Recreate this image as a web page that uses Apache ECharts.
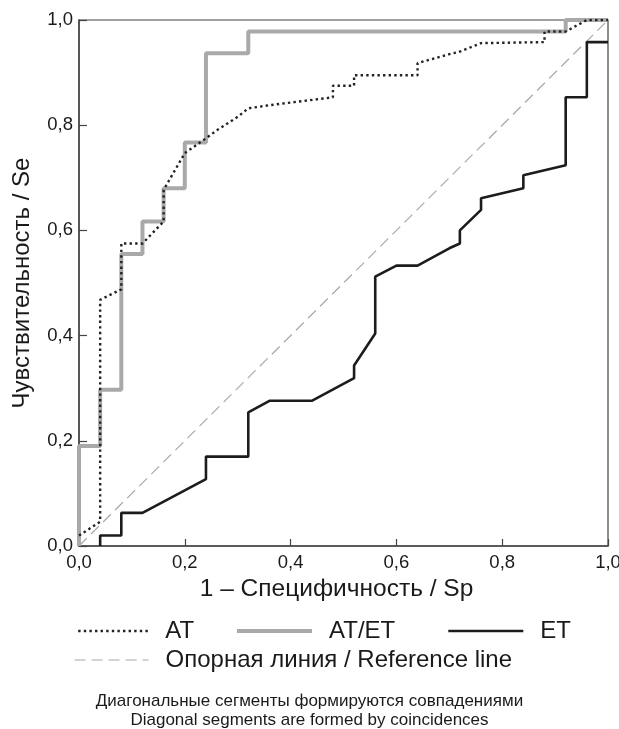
<!DOCTYPE html>
<html>
<head>
<meta charset="utf-8">
<script src="https://cdn.jsdelivr.net/npm/echarts@6/dist/echarts.min.js"></script>
<style>
  html, body { margin: 0; padding: 0; background: #fff; }
  #roc-chart { width: 619px; height: 729px; }
</style>
</head>
<body>
<div id="roc-chart"></div>
<script>
// [1 - Sp, Se] pairs
var atPoints = [
    [0, 0.02], [0.04, 0.046], [0.04, 0.468], [0.08, 0.488], [0.08, 0.575],
    [0.12, 0.575], [0.16, 0.617], [0.16, 0.677], [0.2, 0.747], [0.24, 0.775],
    [0.26, 0.79], [0.3, 0.816], [0.32, 0.832], [0.36, 0.838], [0.48, 0.853],
    [0.48, 0.875], [0.52, 0.875], [0.52, 0.895], [0.64, 0.895], [0.64, 0.918],
    [0.7, 0.935], [0.72, 0.94], [0.76, 0.956], [0.88, 0.958], [0.88, 0.978],
    [0.92, 0.978], [0.96, 1], [1, 1]
];
var atEtPoints = [
    [0, 0], [0, 0.19], [0.04, 0.19], [0.04, 0.297], [0.08, 0.297],
    [0.08, 0.555], [0.12, 0.555], [0.12, 0.617], [0.16, 0.617], [0.16, 0.68],
    [0.2, 0.68], [0.2, 0.767], [0.24, 0.767], [0.24, 0.937], [0.32, 0.937],
    [0.32, 0.978], [0.92, 0.978], [0.92, 1], [1, 1]
];
var etPoints = [
    [0.04, 0], [0.04, 0.02], [0.08, 0.02], [0.08, 0.063], [0.12, 0.063],
    [0.24, 0.127], [0.24, 0.17], [0.32, 0.17], [0.32, 0.254], [0.36, 0.276],
    [0.44, 0.276], [0.52, 0.319], [0.52, 0.343], [0.56, 0.404], [0.56, 0.512],
    [0.6, 0.533], [0.64, 0.533], [0.7, 0.566], [0.72, 0.575], [0.72, 0.6],
    [0.76, 0.639], [0.76, 0.661], [0.84, 0.68], [0.84, 0.705], [0.92, 0.724],
    [0.92, 0.853], [0.96, 0.853], [0.96, 0.958], [1, 0.958]
];
var refPoints = [[0, 0], [1, 1]];
var seriesNames = ['AT', 'AT/ET', 'ET', 'Опорная линия / Reference line'];
var footNote = ['Диагональные сегменты формируются совпадениями', 'Diagonal segments are formed by coincidences'];

var font = 'Liberation Sans';
var styles = {
    at: { color: '#222', width: 2.4, type: [2.4, 3.2] },
    atEt: { color: '#a9a9a9', width: 4, type: 'solid' },
    et: { color: '#1c1c1c', width: 2.6, type: 'solid' },
    ref: { color: '#a8a8a8', width: 1.2, type: [11, 6] }
};

function legendAt(name, left, top, width, line) {
    return {
        data: [name], left: left, top: top, padding: 0,
        itemWidth: width, itemHeight: 14,
        selectedMode: false,
        itemStyle: { opacity: 0 },
        lineStyle: line,
        textStyle: { fontFamily: font, fontSize: 24, color: '#1a1a1a', lineHeight: 24, padding: [0, 0, 0, 12] }
    };
}

function tickText(v) { return v.toFixed(1).replace('.', ','); }

var chart = echarts.init(document.getElementById('roc-chart'));
var option = {
    backgroundColor: '#fff',
    animation: false,
    grid: {
        left: 79, right: 11, top: 20, bottom: 183,
        outerBoundsMode: 'none',
        show: true, borderColor: '#444', borderWidth: 1.2
    },
    xAxis: {
        type: 'value', min: 0, max: 1, interval: 0.2,
        name: '1 – Специфичность / Sp',
        nameLocation: 'middle', nameGap: 28,
        nameTextStyle: { fontFamily: font, fontSize: 24.5, color: '#1a1a1a', padding: [0, 14, 0, 0] },
        axisLine: { lineStyle: { color: '#444', width: 1.5 } },
        axisTick: { inside: true, length: 7, lineStyle: { color: '#444', width: 1.2 } },
        splitLine: { show: false },
        axisLabel: { fontFamily: font, fontSize: 18.5, color: '#1a1a1a', margin: 7, formatter: tickText }
    },
    yAxis: {
        type: 'value', min: 0, max: 1, interval: 0.2,
        name: 'Чувствительность / Se',
        nameLocation: 'middle', nameGap: 45,
        nameTextStyle: { fontFamily: font, fontSize: 24, color: '#1a1a1a' },
        axisLine: { show: true, lineStyle: { color: '#444', width: 1.5 } },
        axisTick: { show: true, inside: true, length: 8, lineStyle: { color: '#444', width: 1.2 } },
        splitLine: { show: false },
        axisLabel: { fontFamily: font, fontSize: 18.5, color: '#1a1a1a', margin: 6, formatter: tickText }
    },
    legend: [
        legendAt(seriesNames[0], 77, 619, 70, styles.at),
        legendAt(seriesNames[1], 235, 619, 75, styles.atEt),
        legendAt(seriesNames[2], 447, 619, 75, styles.et),
        legendAt(seriesNames[3], 74, 648, 74, styles.ref)
    ],
    graphic: [
        {
            type: 'text', left: 'center', top: 693,
            style: { text: footNote[0], fontFamily: font, fontSize: 17, fill: '#1a1a1a' }
        },
        {
            type: 'text', left: 'center', top: 712,
            style: { text: footNote[1], fontFamily: font, fontSize: 17, fill: '#1a1a1a' }
        }
    ],
    series: [
        {
            name: seriesNames[3], type: 'line', data: refPoints,
            symbol: 'none', silent: true, lineStyle: styles.ref
        },
        {
            name: seriesNames[1], type: 'line', data: atEtPoints,
            symbol: 'none', lineStyle: styles.atEt
        },
        {
            name: seriesNames[2], type: 'line', data: etPoints,
            symbol: 'none', lineStyle: styles.et
        },
        {
            name: seriesNames[0], type: 'line', data: atPoints,
            symbol: 'none', lineStyle: styles.at
        }
    ]
};
chart.setOption(option);
</script>
</body>
</html>
